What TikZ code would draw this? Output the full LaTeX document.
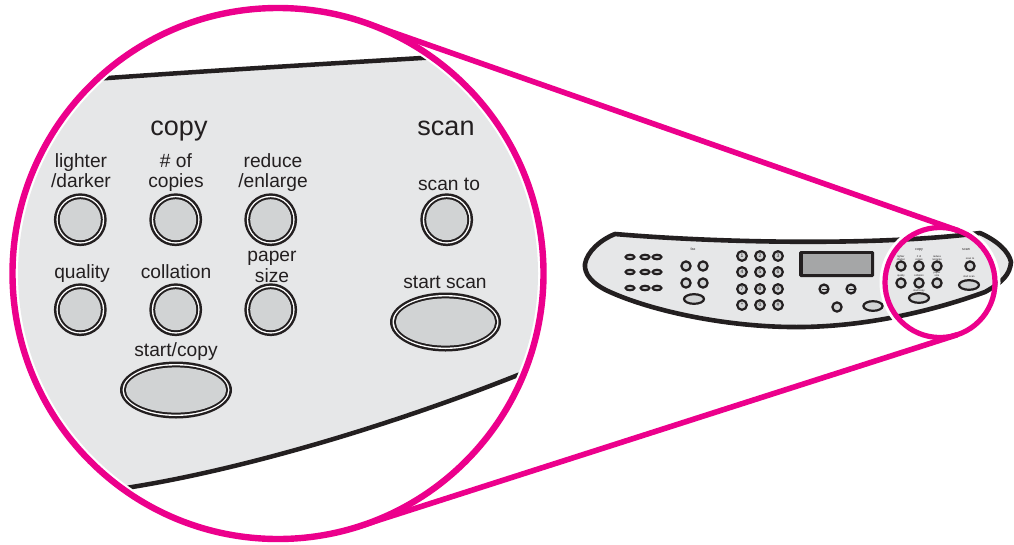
\documentclass[tikz,border=0pt]{standalone}
\usepackage{fontspec}
\setmainfont{Liberation Sans}
\definecolor{ink}{HTML}{231F20}
\definecolor{panel}{HTML}{E6E7E8}
\definecolor{btn}{HTML}{D1D3D4}
\definecolor{mag}{HTML}{EC008C}
\tikzset{
  biglabel/.style={font=\fontsize{19.2}{20.5}\selectfont,text=ink,align=center,inner sep=0pt,anchor=base},
  headlabel/.style={font=\fontsize{27}{29}\selectfont,text=ink,inner sep=0pt,anchor=base},
  tinylabel/.style={font=\fontsize{3.6}{3.8}\selectfont,text=ink,align=center,inner sep=0pt},
  tinierlabel/.style={font=\fontsize{2.6}{2.8}\selectfont,text=ink,align=center,inner sep=0pt},
  digit/.style={font=\fontsize{5}{5}\selectfont,text=ink,inner sep=0pt},
  panelline/.style={draw=ink,line width=4.6pt,line join=round},
  magline/.style={draw=mag,line cap=round}
}
\newcommand{\bigbtn}[3]{%
  \fill[ink] (#1,#2) circle (#3);
  \fill[white] (#1,#2) circle ({#3-2.5});
  \fill[ink] (#1,#2) circle ({#3-3.9});
  \fill[btn] (#1,#2) circle ({#3-5.9});}
\newcommand{\bigoval}[4]{%
  \fill[ink] (#1,#2) ellipse ({#3} and {#4});
  \fill[white] (#1,#2) ellipse ({#3-2.5} and {#4-2.5});
  \fill[ink] (#1,#2) ellipse ({#3-3.9} and {#4-3.9});
  \fill[btn] (#1,#2) ellipse ({#3-5.9} and {#4-5.9});}
\newcommand{\smallbtn}[3]{\filldraw[fill=btn,draw=ink,line width=2.2pt] (#1,#2) circle (#3);}
\newcommand{\smalloval}[4]{\filldraw[fill=btn,draw=ink,line width=2.2pt] (#1,#2) ellipse ({#3} and {#4});}
\begin{document}
\begin{tikzpicture}[x=1pt,y=-1pt]
\useasboundingbox (0,0) rectangle (1014,544);
\fill[white] (0,0) rectangle (1014,544);
% ===== small control panel =====
\path[panelline,fill=panel] (615,234)
  .. controls (720,243) and (880,246) .. (980,233)
  .. controls (998,241) and (1009,252) .. (1011,262)
  .. controls (1010,274) and (1003,282) .. (985,292)
  .. controls (930,312) and (860,328) .. (790,327)
  .. controls (720,326) and (650,310) .. (610,292)
  .. controls (592,284) and (584,274) .. (585,264)
  .. controls (587,252) and (600,240) .. (615,234) -- cycle;
\foreach \y in {257,272,288}\foreach \x in {630,645,657}{\smalloval{\x}{\y}{4.4}{2.2}}
\foreach \x/\y in {686/266,703/266,686/283,703/283}{\smallbtn{\x}{\y}{4.6}}
\smalloval{694}{299}{10}{4.8}
\foreach \x/\y/\d in {742/256/1,760/256/2,778/256/3,742/272/4,760/272/5,778/272/6,742/289/7,760/289/8,778/289/9,742/305/*,760/305/0,778/305/\#}{%
  \filldraw[fill=btn,draw=ink,line width=2.2pt] (\x,\y) circle (4.8);
  \node[digit] at (\x,\y) {\d};}
\node[tinylabel] at (693,249) {fax};
\fill[ink,rounded corners=1.5pt] (799,251) rectangle (874,277);
\fill[btn!75!ink] (802.5,254) rectangle (870.5,274);
\foreach \x in {824,851}{\smallbtn{\x}{289}{4.5}
  \draw[ink,line width=1pt] (\x-2.5,289) -- (\x+2.5,289);}
\smallbtn{837}{307}{4.6}
\smalloval{873}{306}{9.6}{4.8}
\foreach \x/\y in {901/266,919/266,937/266,901/283,919/283,937/283,970/266}{\smallbtn{\x}{\y}{4.6}}
\smalloval{919}{298}{10}{4.8}
\smalloval{969}{285}{10}{4.8}
\node[tinylabel] at (919,250) {copy};
\node[tinylabel] at (966,250) {scan};
\node[tinierlabel] at (901,258) {lighter\\/darker};
\node[tinierlabel] at (919,258) {\# of\\copies};
\node[tinierlabel] at (937,258) {reduce\\/enlarge};
\node[tinierlabel] at (970,259) {scan to};
\node[tinierlabel] at (901,276) {quality};
\node[tinierlabel] at (919,276) {collation};
\node[tinierlabel] at (937,274) {paper\\size};
\node[tinierlabel] at (919,291) {start/copy};
\node[tinierlabel] at (969,277) {start scan};
% ===== lens on the small panel: outer white halo =====
\draw[white,line width=3pt] (940,282.5) circle (59);
% ===== tangents =====
\coordinate (bigTop) at (366,23);
\coordinate (bigBot) at (358.7,526.5);
\coordinate (lensTop) at (958,230.6);
\coordinate (lensBot) at (956.7,334.9);
\draw[magline,line width=5.6pt] (bigTop) -- (lensTop);
\draw[magline,line width=5.6pt] (bigBot) -- (lensBot);
\draw[mag,line width=5.2pt] (940,282.5) circle (55);
% ===== big lens =====
\fill[white] (278,273.5) circle (265.5);
\begin{scope}
  \clip (278,273.5) circle (260);
  \fill[panel] (100,78.5) -- (108,78) .. controls (220,70) and (340,63) .. (430,57.5)
    -- (560,57.5) -- (560,358) -- (518,375)
    .. controls (400,422) and (250,468) .. (132,487) -- (-20,500) -- (-20,78.5) -- cycle;
  \draw[ink,line width=4.5pt] (100,78.5) -- (108,78) .. controls (220,70) and (340,63) .. (430,57.5);
  \draw[ink,line width=4.5pt] (530,370) -- (518,375) .. controls (400,422) and (250,468) .. (132,487) -- (120,489);
\end{scope}
\draw[mag,line width=6.4pt] (278,273.5) circle (265.5);
% ===== big buttons =====
\foreach \x/\y in {80.3/219.7,175.7/219.7,270.7/219.7,80.3/309.7,175.7/309.7,270.7/309.7,446.7/219.7}{\bigbtn{\x}{\y}{26.4}}
\bigoval{176}{390}{56}{28.5}
\bigoval{445.5}{322}{55.5}{29.5}
% ===== big labels =====
\node[headlabel] at (179,135) {copy};
\node[headlabel] at (446,135) {scan};
\node[biglabel] at (81,187.5) {lighter\\/darker};
\node[biglabel] at (176,187.5) {\# of\\copies};
\node[biglabel] at (273,187.5) {reduce\\/enlarge};
\node[biglabel] at (449,190) {scan to};
\node[biglabel] at (82,278.5) {quality};
\node[biglabel] at (176,278.5) {collation};
\node[biglabel] at (272,282) {paper\\size};
\node[biglabel] at (176,356) {start/copy};
\node[biglabel] at (445,288) {start scan};
\end{tikzpicture}
\end{document}
